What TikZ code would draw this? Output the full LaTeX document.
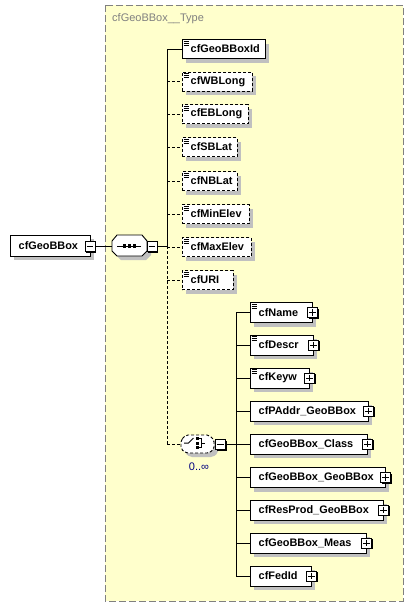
\documentclass[tikz,border=0pt]{standalone}
\usepackage{fontspec}
\setmainfont{Liberation Sans}
\usetikzlibrary{shadows}
\definecolor{bgyellow}{RGB}{255,255,204}
\definecolor{shadowgray}{RGB}{192,192,192}
\definecolor{bordergray}{RGB}{128,128,128}
\definecolor{occblue}{RGB}{0,0,128}
\newcommand\xelem[6]{%
  \node[#6, minimum width=#4] (#1) at (#2,#3) {};
  \node[lbl] (#1-t) at ([xshift=8.5pt]#1.west) {#5};
}
\newcommand\xicon[1]{%
  \draw[iconline] ([shift={(1.5,1.8)}]#1.north west) -- ++(5,0)
                  ([shift={(1.5,3.8)}]#1.north west) -- ++(5,0)
                  ([shift={(1.5,5.8)}]#1.north west) -- ++(5,0);}
\newcommand\xminus[2]{%
  \node[pmbox] (#1) at (#2) {};
  \draw[line width=1pt] ([xshift=2pt]#1.west) -- ([xshift=-2pt]#1.east);}
\newcommand\xplus[2]{%
  \node[pmbox] (#1) at (#2) {};
  \draw[line width=1pt] ([xshift=2pt]#1.west) -- ([xshift=-2pt]#1.east)
                        ([yshift=-2pt]#1.north) -- ([yshift=2pt]#1.south);}
\begin{document}
\begin{tikzpicture}[x=1pt,y=-1pt,
  elem/.style={draw, fill=white, line width=0.9pt, minimum height=19pt, inner sep=0pt, anchor=west,
    drop shadow={shadow xshift=4pt, shadow yshift=-4pt, fill=shadowgray, opacity=1}},
  optelem/.style={elem, dash pattern=on 3pt off 2pt},
  bigelem/.style={elem, minimum height=20pt},
  lbl/.style={anchor=west, inner sep=0pt, font=\fontsize{10.9}{12}\selectfont\bfseries},
  iconline/.style={line width=0.7pt},
  pmbox/.style={draw, fill=white, line width=0.9pt, minimum size=10pt, inner sep=0pt,
    drop shadow={shadow xshift=1.2pt, shadow yshift=-1.2pt, fill=black, opacity=1}},
  conn/.style={line width=0.9pt},
  optconn/.style={line width=0.9pt, dash pattern=on 3pt off 2pt}]
\useasboundingbox (0,0) rectangle (413,608);
\fill[white] (0,0) rectangle (413,608);
% type box
\draw[fill=bgyellow, draw=bordergray, line width=0.9pt, dash pattern=on 7pt off 3pt] (105,5) rectangle (403,601);
\node[anchor=west, inner sep=0pt, text=bordergray, font=\fontsize{11}{12}\selectfont] (title) at (112,19) {cfGeoBBox\_\_Type};

% main element
\xelem{main}{10}{245.5}{80pt}{cfGeoBBox}{elem, minimum height=21pt}
\xminus{mainpm}{90,246.5}

% sequence
\node[minimum width=35pt, minimum height=21pt, inner sep=0pt] (seq) at (129.5,245.5) {};
\fill[shadowgray] (116,245)--(121,239)--(146,239)--(151,245)--(151,255)--(146,260)--(121,260)--(116,255)--cycle;
\draw[fill=white, line width=0.9pt] (112,241)--(117,235)--(142,235)--(147,241)--(147,251)--(142,256)--(117,256)--(112,251)--cycle;
\draw[line width=1pt] (117,246)--(141,246);
\foreach \dx in {124.5,129.5,134.5} \fill (\dx-1.6,244.4) rectangle (\dx+1.6,247.6);
\xminus{seqpm}{152,246.5}

\coordinate (spine) at (167,246);
\coordinate (spinetop) at (167,49);
\coordinate (spinebot) at (167,444);
\draw[conn] (mainpm.east) -- (seq.west |- mainpm.east);
\draw[conn] (seqpm.east) -- (spine |- seqpm.east);
\draw[conn] (spinetop) -- (spine);
\draw[optconn] (spine) -- (spinebot);

% sequence children
\xelem{id}{182}{49}{83pt}{cfGeoBBoxId}{elem}
\xelem{wb}{182}{81.5}{70pt}{cfWBLong}{optelem}
\xelem{eb}{182}{114}{66pt}{cfEBLong}{optelem}
\xelem{sb}{182}{147}{55pt}{cfSBLat}{optelem}
\xelem{nb}{182}{181}{55pt}{cfNBLat}{optelem}
\xelem{mine}{182}{214}{67pt}{cfMinElev}{optelem}
\xelem{maxe}{182}{247}{69pt}{cfMaxElev}{optelem}
\xelem{uri}{182}{280}{51pt}{cfURI}{optelem}
\foreach \n in {id,wb,eb,sb,nb,mine,maxe,uri} {\xicon{\n}}
\draw[conn] (id.west -| spinetop) -- (id.west);
\foreach \n in {wb,eb,sb,nb,mine,maxe,uri} {\draw[optconn] (\n.west -| spinetop) -- (\n.west);}

% choice
\node[minimum width=33pt, minimum height=19pt, inner sep=0pt] (choice) at (197.5,444) {};
\fill[shadowgray, rounded corners=2pt] (185,444)--(190,439)--(213,439)--(218,444)--(218,453)--(213,457)--(190,457)--(185,453)--cycle;
\draw[fill=white, line width=0.9pt, dash pattern=on 3pt off 2pt, rounded corners=2pt]
  (181,440)--(186,435)--(209,435)--(214,440)--(214,449)--(209,453)--(186,453)--(181,449)--cycle;
\draw[line width=1pt] (184,443)--(188.5,443)--(193.5,438);
\foreach \dy in {438.5,443,447.5} \fill (195.5,\dy-1.5) rectangle (198.5,\dy+1.5);
\draw[line width=0.9pt] (198.5,438.5)--(201,438.5)--(201,447.5)--(198.5,447.5) (201,443)--(205,443);
\xminus{chpm}{220.5,444.5}
\node[text=occblue, inner sep=0pt, font=\fontsize{11}{12}\selectfont] (occ) at (199,467) {0..∞};
\draw[optconn] (spinebot) -- (choice.west);

\coordinate (spine2top) at (236,312.5);
\coordinate (spine2bot) at (236,576);
\draw[conn] (chpm.east) -- (spine2top |- chpm.east);
\draw[conn] (spine2top) -- (spine2bot);

% choice children
\xelem{name}{250}{312.5}{62pt}{cfName}{bigelem}
\xelem{descr}{250}{345}{63pt}{cfDescr}{bigelem}
\xelem{keyw}{250}{378}{59pt}{cfKeyw}{bigelem}
\xelem{paddr}{250}{411}{118pt}{cfPAddr\_GeoBBox}{bigelem}
\xelem{class}{250}{444}{117pt}{cfGeoBBox\_Class}{bigelem}
\xelem{gbb}{250}{477.5}{135pt}{cfGeoBBox\_GeoBBox}{bigelem}
\xelem{resp}{250}{510}{133pt}{cfResProd\_GeoBBox}{bigelem}
\xelem{meas}{250}{543}{116pt}{cfGeoBBox\_Meas}{bigelem}
\xelem{fed}{250}{576}{61pt}{cfFedId}{bigelem}
\foreach \n in {name,descr,keyw} {\xicon{\n}}
\foreach \n in {name,descr,keyw,paddr,class,gbb,resp,meas,fed} {
  \xplus{\n-pm}{\n.east}
  \draw[conn] (\n.west -| spine2top) -- (\n.west);
}
\end{tikzpicture}
\end{document}
